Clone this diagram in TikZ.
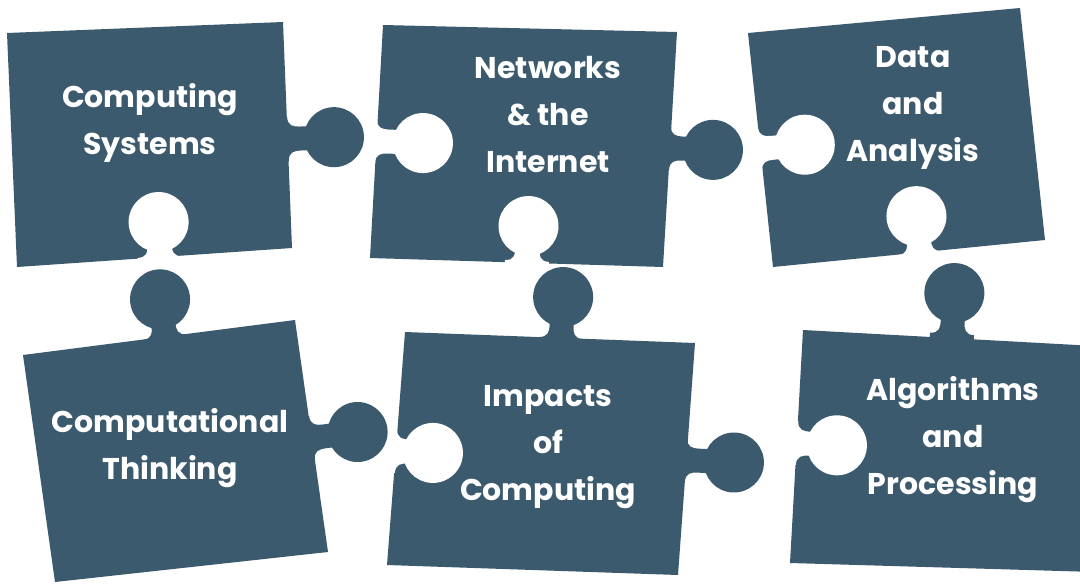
\documentclass[tikz,border=0pt]{standalone}
\usepackage{fontspec}
\setmainfont{Poppins}
\usepackage{tikz}
\definecolor{puzzle}{RGB}{60,90,110}
\tikzset{piece/.style={fill=puzzle},
  lbl/.style={text=white,font=\fontsize{30}{47}\selectfont\bfseries,align=center},
  pics/peg/.style={code={
    \fill[puzzle] (0,#1) circle (30pt);
    \fill[puzzle] (-22,-6) -- (-22,0) .. controls (-13,0) and (-12,6) .. (-12,12) -- (-12,#1) -- (12,#1) -- (12,12) .. controls (12,6) and (13,0) .. (22,0) -- (22,-6) -- cycle;}},
  pics/slot/.style={code={
    \fill[white] (0,#1) circle (30pt);
    \fill[white] (-22,-6) -- (-22,0) .. controls (-13,0) and (-12,6) .. (-12,12) -- (-12,#1) -- (12,#1) -- (12,12) .. controls (12,6) and (13,0) .. (22,0) -- (22,-6) -- cycle;}}}

\begin{document}
\begin{tikzpicture}[x=1pt,y=-1pt]
    \useasboundingbox[fill=white] (0,0) rectangle (1080,584);

    \fill[piece] (7,33) -- (283,22) -- (292,248) -- (17,267) -- cycle;
    \fill[piece] (383,25) -- (677,32) -- (663,267) -- (370,258) -- cycle;
    \fill[piece] (748,33) -- (1020,8) -- (1045,240) -- (773,267) -- cycle;
    \fill[piece] (23,355) -- (295,320) -- (328,552) -- (55,582) -- cycle;
    \fill[piece] (405,332) -- (695,343) -- (678,575) -- (387,565) -- cycle;
    \fill[piece] (803,330) -- (1095,346) -- (1095,572) -- (790,563) -- cycle;

    \pic[rotate=92.3] at (288,139) {peg=46};
    \pic[rotate=87.5] at (670,148) {peg=43};
    \pic[rotate=187.5] at (165,337) {peg=38};
    \pic[rotate=97.5] at (312,438) {peg=46};
    \pic[rotate=177] at (561,338) {peg=41};
    \pic[rotate=87] at (686,460) {peg=48};
    \pic[rotate=176.7] at (952,334) {peg=41};

    \pic[rotate=182.3] at (160,257) {slot=35};
    \pic[rotate=87.5] at (376,141) {slot=47};
    \pic[rotate=177.5] at (527,261) {slot=35};
    \pic[rotate=95.5] at (760,149) {slot=45};
    \pic[rotate=185.5] at (920,253) {slot=37};
    \pic[rotate=87] at (396,451) {slot=37};
    \pic[rotate=86.7] at (797,443) {slot=40};

    \node[lbl] (cs) at (150,123) {Computing\\Systems};
    \node[lbl] (net) at (548,115) {Networks\\\& the\\Internet};
    \node[lbl] (data) at (913,108) {Data\\and\\Analysis};
    \node[lbl] (ct) at (170,448) {Computational\\Thinking};
    \node[lbl] (ioc) at (548,447) {Impacts\\of\\Computing};
    \node[lbl] (algo) at (953,440) {Algorithms\\and\\Processing};
\end{tikzpicture}
\end{document}
